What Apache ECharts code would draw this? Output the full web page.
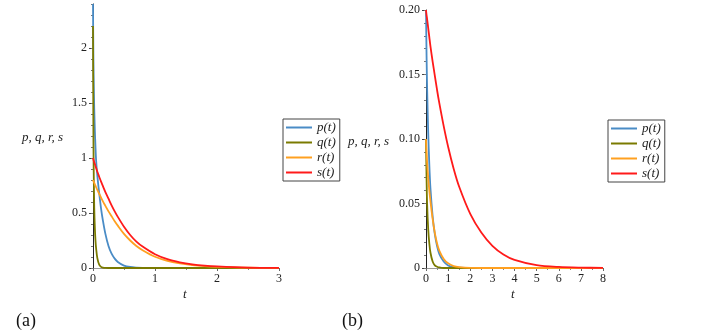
<!DOCTYPE html>
<html>
<head>
<meta charset="utf-8">
<script src="https://cdn.jsdelivr.net/npm/echarts@6/dist/echarts.min.js"></script>
<style>html,body{margin:0;padding:0;background:#fff}#c{width:708px;height:336px}</style>
</head>
<body>
<div id="c"></div>
<script>
// ---- Panel (a) ----
var tA = [0, 0.005, 0.01, 0.02, 0.03, 0.04, 0.05, 0.07, 0.1, 0.13, 0.16, 0.2, 0.25, 0.3, 0.35, 0.4, 0.5, 0.6, 0.7, 0.8, 1.0, 1.2, 1.4, 1.6, 1.8, 2.0, 2.5, 3.0];
var pA = [2.4, 2.0, 1.75, 1.45, 1.25, 1.1, 0.98, 0.84, 0.68, 0.54, 0.43, 0.31, 0.2, 0.13, 0.085, 0.055, 0.022, 0.009, 0.004, 0.002, 0.0005, 0, 0, 0, 0, 0, 0, 0];
var qA = [2.2, 1.4, 0.95, 0.55, 0.36, 0.25, 0.18, 0.09, 0.03, 0.01, 0.004, 0.001, 0, 0, 0, 0, 0, 0, 0, 0, 0, 0, 0, 0, 0, 0, 0, 0];
var rA = [0.8, 0.793, 0.787, 0.773, 0.76, 0.748, 0.735, 0.71, 0.675, 0.64, 0.605, 0.565, 0.515, 0.47, 0.425, 0.385, 0.31, 0.25, 0.2, 0.162, 0.102, 0.065, 0.042, 0.027, 0.017, 0.011, 0.003, 0.001];
var sA = [1.0, 0.99, 0.98, 0.962, 0.945, 0.927, 0.91, 0.875, 0.83, 0.785, 0.745, 0.69, 0.63, 0.57, 0.515, 0.465, 0.375, 0.3, 0.24, 0.195, 0.125, 0.08, 0.052, 0.033, 0.021, 0.014, 0.004, 0.001];
var xTicksA = [0, 1, 2, 3];
var yTicksA = [0, 0.5, 1, 1.5, 2];
var yMinorA = [0,0.1,0.2,0.3,0.4,0.5,0.6,0.7,0.8,0.9,1.0,1.1,1.2,1.3,1.4,1.5,1.6,1.7,1.8,1.9,2.0,2.1,2.2,2.3,2.4];

// ---- Panel (b) ----
var tB = [0, 0.025, 0.05, 0.1, 0.15, 0.2, 0.3, 0.4, 0.5, 0.6, 0.8, 1.0, 1.25, 1.5, 2, 2.5, 3, 3.5, 4, 5, 6, 7, 8];
var pB = [0.2, 0.165, 0.14, 0.105, 0.08, 0.062, 0.04, 0.026, 0.017, 0.011, 0.005, 0.002, 0.0007, 0.0003, 0, 0, 0, 0, 0, 0, 0, 0, 0];
var qB = [0.1, 0.07, 0.05, 0.03, 0.019, 0.012, 0.005, 0.002, 0.001, 0.0004, 0, 0, 0, 0, 0, 0, 0, 0, 0, 0, 0, 0, 0];
var rB = [0.1, 0.09, 0.082, 0.07, 0.06, 0.052, 0.038, 0.027, 0.019, 0.0135, 0.007, 0.0036, 0.0015, 0.0007, 0.0001, 0, 0, 0, 0, 0, 0, 0, 0];
var sB = [0.2, 0.196, 0.193, 0.186, 0.179, 0.172, 0.16, 0.149, 0.138, 0.128, 0.11, 0.094, 0.077, 0.063, 0.042, 0.0275, 0.0172, 0.0105, 0.0063, 0.0022, 0.0008, 0.0003, 0.0001];
var xTicksB = [0, 1, 2, 3, 4, 5, 6, 7, 8];
var yTicksB = [0, 0.05, 0.1, 0.15, 0.2];
var yMinorB = [0,0.01,0.02,0.03,0.04,0.05,0.06,0.07,0.08,0.09,0.1,0.11,0.12,0.13,0.14,0.15,0.16,0.17,0.18,0.19,0.2];

var names = ['p(t)', 'q(t)', 'r(t)', 's(t)'];
var colors = ['#4A8CC6', '#7A7A00', '#FFA020', '#FF1A1A'];

function zip(t, v) { return t.map(function (x, i) { return [x, v[i]]; }); }

var serif = 'Liberation Serif';
var labelStyle = { fontFamily: serif, fontSize: 12, color: '#222' };

function xAxis(gi, max, ticks) {
  return {
    type: 'value', gridIndex: gi, min: 0, max: max, interval: 1,
    axisLine: { show: true, onZero: false, lineStyle: { color: '#999', width: 1 } },
    axisTick: { show: true, length: 3, lineStyle: { color: '#666' } },
    minorTick: { show: true, splitNumber: 2, length: 2, lineStyle: { color: '#888' } },
    axisLabel: Object.assign({ margin: 5, formatter: function (v) { return String(v); } }, labelStyle),
    splitLine: { show: false }
  };
}
function yAxisMain(gi, max, ticks, fmt) {
  return {
    type: 'value', gridIndex: gi, min: 0, max: max,
    axisLine: { show: true, onZero: false, lineStyle: { color: '#222', width: 1 } },
    axisTick: { show: true, length: 4, customValues: ticks, lineStyle: { color: '#444' } },
    axisLabel: Object.assign({ margin: 6, customValues: ticks, formatter: fmt }, labelStyle),
    splitLine: { show: false }
  };
}
function yAxisMinor(gi, max, minor) {
  return {
    type: 'value', gridIndex: gi, min: 0, max: max, position: 'left',
    axisLine: { show: false },
    axisTick: { show: true, length: 2, customValues: minor, lineStyle: { color: '#777' } },
    axisLabel: { show: false },
    splitLine: { show: false }
  };
}

var series = [];
[[pA, qA, rA, sA], [pB, qB, rB, sB]].forEach(function (set, gi) {
  var t = gi === 0 ? tA : tB;
  set.forEach(function (vals, k) {
    series.push({
      type: 'line', name: names[k], xAxisIndex: gi, yAxisIndex: gi * 2,
      data: zip(t, vals), symbol: 'none', showSymbol: false,
      smooth: 0.3,
      lineStyle: { color: colors[k], width: 1.8 }, itemStyle: { color: colors[k] },
      clip: true, z: 2 + k
    });
  });
});

function legend(left, top) {
  return {
    data: names.map(function (n, k) {
      return { name: n, icon: 'path://M0,6L26,6L26,8L0,8Z', itemStyle: { color: colors[k] } };
    }),
    orient: 'vertical', left: left, top: top,
    borderColor: '#444', borderWidth: 1, backgroundColor: '#fff',
    padding: [2, 4, 2, 3], itemGap: 2, itemWidth: 26, itemHeight: 14,
    selectedMode: false,
    textStyle: { fontFamily: serif, fontStyle: 'italic', fontSize: 13, color: '#222' }
  };
}

var chart = echarts.init(document.getElementById('c'), null, { renderer: 'canvas' });
chart.setOption({
  animation: false,
  backgroundColor: '#fff',
  grid: [
    { left: 93, top: 4, width: 186, height: 264 },
    { left: 426, top: 10, width: 177, height: 258 }
  ],
  xAxis: [xAxis(0, 3, xTicksA), xAxis(1, 8, xTicksB)],
  yAxis: [
    yAxisMain(0, 2.4, yTicksA, function (v) { return String(v); }),
    yAxisMinor(0, 2.4, yMinorA),
    yAxisMain(1, 0.2, yTicksB, function (v) { return v === 0 ? '0' : v.toFixed(2); }),
    yAxisMinor(1, 0.2, yMinorB)
  ],
  legend: [legend(283, 119), legend(608, 120)],
  series: series,
  graphic: [
    { type: 'text', left: 22, top: 131, style: { text: 'p, q, r, s', font: 'italic 13px "Liberation Serif"', fill: '#222' } },
    { type: 'text', left: 348, top: 135, style: { text: 'p, q, r, s', font: 'italic 13px "Liberation Serif"', fill: '#222' } },
    { type: 'text', left: 183, top: 288, style: { text: 't', font: 'italic 13px "Liberation Serif"', fill: '#222' } },
    { type: 'text', left: 511, top: 288, style: { text: 't', font: 'italic 13px "Liberation Serif"', fill: '#222' } },
    { type: 'text', left: 16, top: 312, style: { text: '(a)', font: '18px "Liberation Serif"', fill: '#111' } },
    { type: 'text', left: 342, top: 312, style: { text: '(b)', font: '18px "Liberation Serif"', fill: '#111' } }
  ]
});
</script>
</body>
</html>
